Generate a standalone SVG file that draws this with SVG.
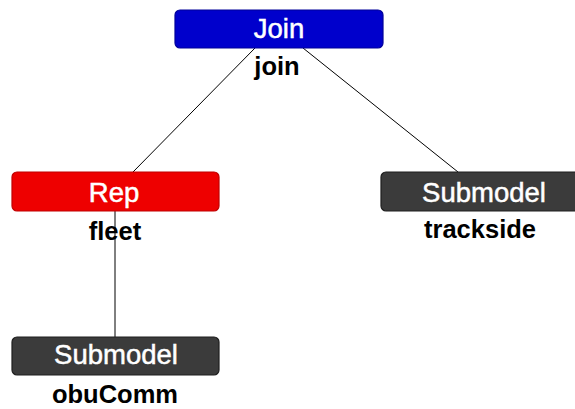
<svg xmlns="http://www.w3.org/2000/svg" width="575" height="409" viewBox="0 0 575 409">
  <style>
    .box { stroke-width: 1.2; }
    .join { fill: #0000cc; stroke: #00009a; }
    .rep { fill: #ee0000; stroke: #c00000; }
    .sub { fill: #3b3b3b; stroke: #1e1e1e; }
    .title { font-family: "Liberation Sans", Arial, sans-serif; font-size: 27.5px; fill: #ffffff; stroke: #ffffff; stroke-width: 0.5; text-anchor: middle; }
    .name { font-family: "Liberation Sans", Arial, sans-serif; font-size: 25.5px; font-weight: bold; fill: #000000; text-anchor: middle; }
    .edge { stroke: #000000; stroke-width: 1; fill: none; }
  </style>
  <rect width="575" height="409" fill="#ffffff"/>

  <g id="connectors">
    <line class="edge" x1="255" y1="48" x2="133" y2="172"/>
    <line class="edge" x1="303" y1="48" x2="458" y2="172" stroke="#444444"/>
    <line class="edge" x1="115" y1="210" x2="115" y2="337"/>
  </g>

  <g id="join">
    <rect class="box join" x="175" y="10" width="208" height="38" rx="5"/>
    <text class="title" x="279" y="38">Join</text>
    <text class="name" x="277" y="75">join</text>
  </g>

  <g id="fleet">
    <rect class="box rep" x="12" y="172" width="207" height="39" rx="5"/>
    <text class="title" x="114" y="202">Rep</text>
    <text class="name" x="115" y="240">fleet</text>
  </g>

  <g id="trackside">
    <rect class="box sub" x="381" y="172" width="207" height="39" rx="5"/>
    <text class="title" x="484" y="202">Submodel</text>
    <text class="name" x="480" y="238">trackside</text>
  </g>

  <g id="obuComm">
    <rect class="box sub" x="12" y="337" width="207" height="38" rx="5"/>
    <text class="title" x="116" y="364">Submodel</text>
    <text class="name" x="115" y="403">obuComm</text>
  </g>
</svg>
